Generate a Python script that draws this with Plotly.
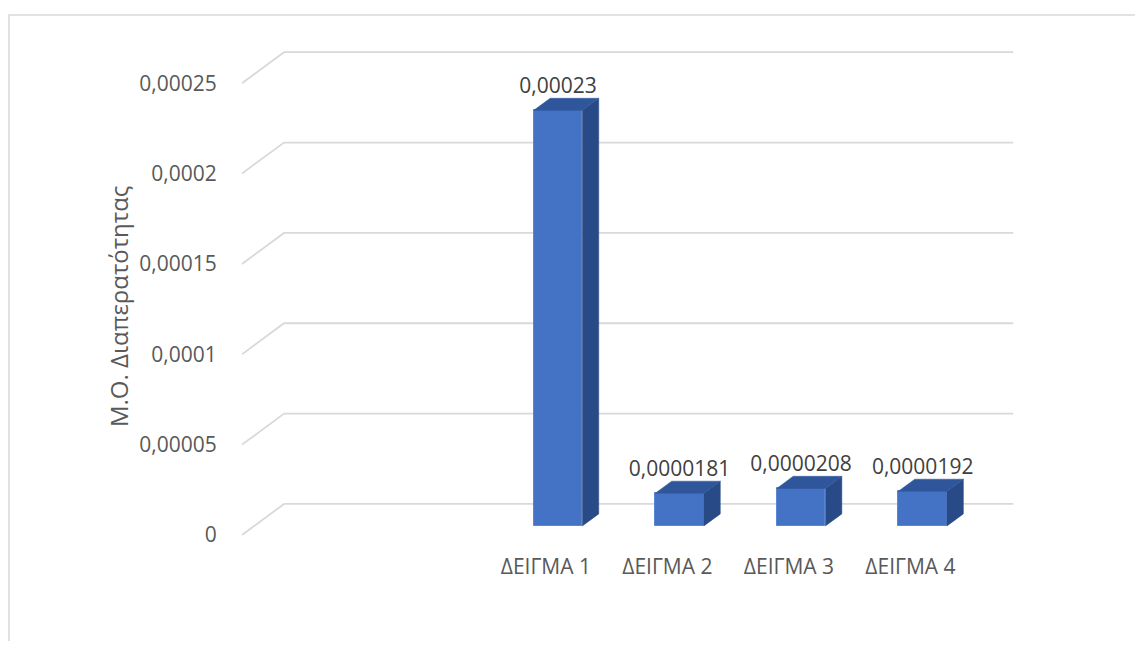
import plotly.graph_objects as go

# ---- data ----
categories = ["", "", "ΔΕΙΓΜΑ 1", "ΔΕΙΓΜΑ 2", "ΔΕΙΓΜΑ 3", "ΔΕΙΓΜΑ 4"]
values = [None, None, 0.00023, 0.0000181, 0.0000208, 0.0000192]
value_labels = ["", "", "0,00023", "0,0000181", "0,0000208", "0,0000192"]
y_tickvals = [0, 0.00005, 0.0001, 0.00015, 0.0002, 0.00025]
y_ticktext = ["0", "0,00005", "0,0001", "0,00015", "0,0002", "0,00025"]
y_title = "Μ.Ο. Διαπερατότητας"

# ---- styling / 3D projection parameters ----
FRONT = "#4472C4"
TOP = "#2F569B"
SIDE = "#284A86"
GRID = "#D9D9D9"
TXT = "#595959"
FONT = "Open Sans"
FS = 21

n = len(categories)
DX = 0.346          # depth offset in category units
DY = 1.715e-5       # depth offset in value units
F1, F2 = 0.29, 0.68  # bar depth placement (front, back fraction)
BW = 0.40           # bar width

x_left, x_right = -0.5, n - 0.5

fig = go.Figure()

# gridlines (back wall + floor diagonal) drawn below marks
shapes = []
for v in y_tickvals:
    shapes.append(dict(type="path", layer="below", xref="x", yref="y",
                       path=f"M {x_left},{v} L {x_left+DX},{v+DY} L {x_right+DX},{v+DY}",
                       line=dict(color=GRID, width=1.8)))

# chart border
shapes.append(dict(type="rect", xref="paper", yref="paper",
                   x0=-0.295, y0=-0.35, x1=1.3, y1=1.027,
                   line=dict(color=GRID, width=1.5), layer="below"))

xs, ys, bases = [], [], []
for i, v in enumerate(values):
    if v is None:
        continue
    xs.append(i + F1 * DX)
    ys.append(v)
    bases.append(F1 * DY)

# front faces
fig.add_trace(go.Bar(x=xs, y=ys, base=bases, width=BW,
                     marker=dict(color=FRONT, line=dict(color="#5A86D4", width=1)),
                     hoverinfo="skip", showlegend=False))

# side and top faces
for i, v in enumerate(values):
    if v is None:
        continue
    xl, xr = i - BW / 2, i + BW / 2
    sx = [xr + F1 * DX, xr + F2 * DX, xr + F2 * DX, xr + F1 * DX, xr + F1 * DX]
    sy = [F1 * DY, F2 * DY, v + F2 * DY, v + F1 * DY, F1 * DY]
    fig.add_trace(go.Scatter(x=sx, y=sy, fill="toself", fillcolor=SIDE, mode="lines",
                             line=dict(color=SIDE, width=0.5), hoverinfo="skip", showlegend=False))
    tx = [xl + F1 * DX, xr + F1 * DX, xr + F2 * DX, xl + F2 * DX, xl + F1 * DX]
    ty = [v + F1 * DY, v + F1 * DY, v + F2 * DY, v + F2 * DY, v + F1 * DY]
    fig.add_trace(go.Scatter(x=tx, y=ty, fill="toself", fillcolor=TOP, mode="lines",
                             line=dict(color=TOP, width=0.5), hoverinfo="skip", showlegend=False))

# data labels
lx, ly, lt = [], [], []
for i, v in enumerate(values):
    if v is None:
        continue
    lx.append(i + F1 * DX)
    ly.append(v + F2 * DY)
    lt.append(value_labels[i])
fig.add_trace(go.Scatter(x=lx, y=ly, mode="text", text=lt, textposition="top center",
                         textfont=dict(family=FONT, size=FS, color="#404040"),
                         hoverinfo="skip", showlegend=False))

fig.update_layout(
    width=1127, height=633,
    margin=dict(l=234, r=103, t=21, b=97),
    paper_bgcolor="white", plot_bgcolor="white",
    font=dict(family=FONT, size=FS, color=TXT),
    shapes=shapes,
    xaxis=dict(range=[x_left, 6.0], tickvals=list(range(n)), ticktext=categories,
               showgrid=False, zeroline=False, showline=False,
               ticks="outside", ticklen=4, tickcolor="rgba(0,0,0,0)",
               tickfont=dict(family=FONT, size=FS, color=TXT)),
    yaxis=dict(range=[-0.000005, 0.00028], tickvals=y_tickvals, ticktext=y_ticktext,
               showgrid=False, zeroline=False, showline=False,
               ticks="outside", ticklen=20, tickcolor="rgba(0,0,0,0)",
               tickfont=dict(family=FONT, size=FS, color=TXT)),
    annotations=[dict(text=y_title, xref="paper", yref="paper", x=-0.157, y=0.462,
                      xanchor="center", yanchor="middle",
                      textangle=-90, showarrow=False,
                      font=dict(family=FONT, size=24, color=TXT))],
    bargap=0,
)

fig.write_html("out.html")
